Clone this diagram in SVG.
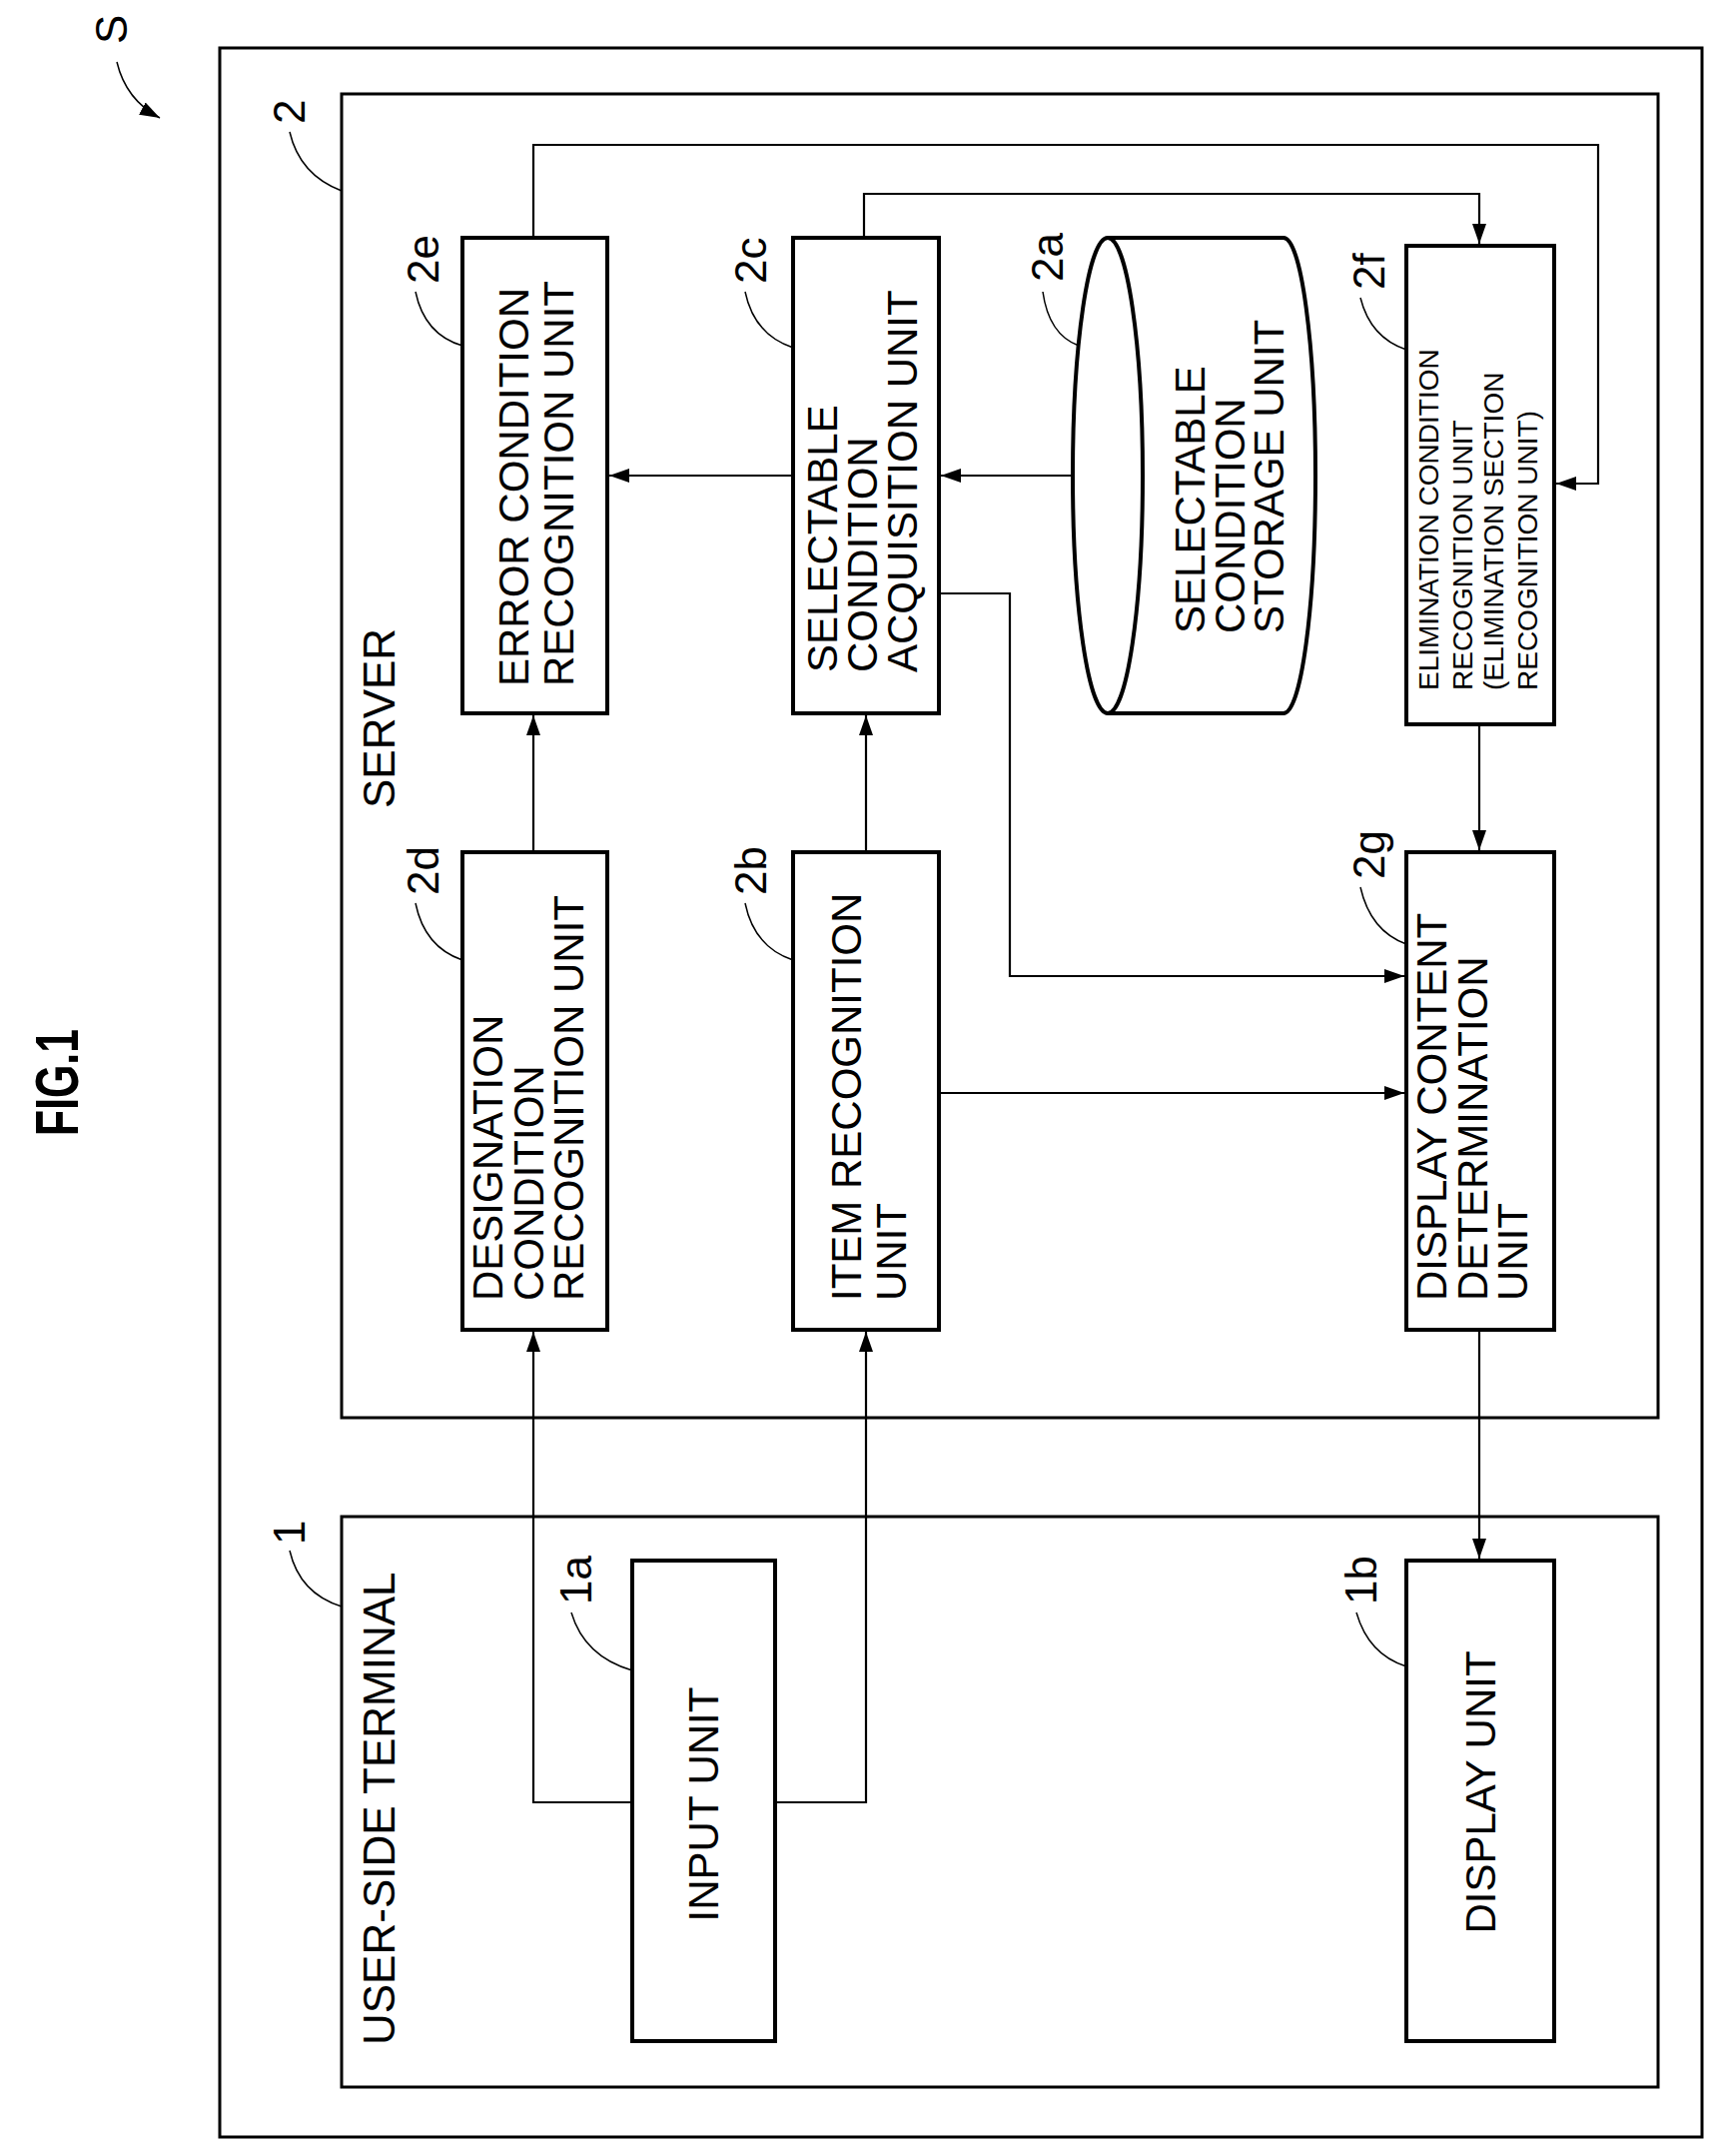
<svg xmlns="http://www.w3.org/2000/svg" width="1718" height="2158" viewBox="0 0 1718 2158">
<style>
.frame{fill:none;stroke:#000;stroke-width:3}
.box{fill:#fff;stroke:#000;stroke-width:4}
.conn{fill:none;stroke:#000;stroke-width:2.2}
.lead{fill:none;stroke:#000;stroke-width:1.5}
.t{font-family:"Liberation Sans",Arial,sans-serif;font-size:42px;fill:#000}
.ts{font-family:"Liberation Sans",Arial,sans-serif;font-size:28px;fill:#000}
.lbl{font-family:"Liberation Sans",Arial,sans-serif;font-size:44px;fill:#000}
</style>
<defs>
<marker id="ah" viewBox="0 0 20 14" refX="20" refY="7" markerWidth="20" markerHeight="14" markerUnits="userSpaceOnUse" orient="auto">
<path d="M0,0 L20,7 L0,14 Z" fill="#000"/>
</marker>
</defs>
<rect width="1718" height="2158" fill="#fff"/>

<g id="fig">
<text transform="translate(78,1137) rotate(-90)" font-family="Liberation Sans,Arial,sans-serif" font-weight="bold" font-size="62" textLength="107" lengthAdjust="spacingAndGlyphs">FIG.1</text>
<text transform="translate(127,44) rotate(-90)" class="lbl" font-size="48">S</text>
<path class="lead" d="M117,62 Q126,100 160,118" marker-end="url(#ah)"/>
</g>

<g id="system-S"><rect class="frame" x="220" y="48" width="1484" height="2091"/></g>

<g id="server-2">
<rect class="frame" x="342" y="94" width="1318" height="1325"/>
<text class="lbl" transform="translate(395,809) rotate(-90)">SERVER</text>
<text class="lbl" transform="translate(305,124) rotate(-90)">2</text>
<path class="lead" d="M290,132 Q300,175 342,191"/>
</g>

<g id="terminal-1">
<rect class="frame" x="342" y="1518" width="1318" height="571"/>
<text class="lbl" transform="translate(395,2047) rotate(-90)">USER-SIDE TERMINAL</text>
<text class="lbl" transform="translate(305,1546) rotate(-90)">1</text>
<path class="lead" d="M290,1552 Q300,1595 342,1608"/>
</g>

<g id="connectors">
<path class="conn" d="M534,238 V145 H1600 V484 H1558" marker-end="url(#ah)"/>
<path class="conn" d="M865,238 V194 H1481 V244" marker-end="url(#ah)"/>
<path class="conn" d="M794,476 H610" marker-end="url(#ah)"/>
<path class="conn" d="M1074,476 H942" marker-end="url(#ah)"/>
<path class="conn" d="M940,594 H1011 V977 H1406" marker-end="url(#ah)"/>
<path class="conn" d="M940,1094 H1406" marker-end="url(#ah)"/>
<path class="conn" d="M534,853 V716" marker-end="url(#ah)"/>
<path class="conn" d="M867,853 V716" marker-end="url(#ah)"/>
<path class="conn" d="M1481,725 V851" marker-end="url(#ah)"/>
<path class="conn" d="M633,1804 H534 V1333" marker-end="url(#ah)"/>
<path class="conn" d="M776,1804 H867 V1333" marker-end="url(#ah)"/>
<path class="conn" d="M1481,1331 V1560" marker-end="url(#ah)"/>
</g>

<g id="node-2e">
<rect class="box" x="463" y="238" width="145" height="476"/>
<text class="t" transform="translate(529,687) rotate(-90)"><tspan x="0" y="0">ERROR CONDITION</tspan><tspan x="0" y="45">RECOGNITION UNIT</tspan></text>
<text class="lbl" transform="translate(439,284) rotate(-90)">2e</text>
<path class="lead" d="M416,292 Q425,335 463,346"/>
</g>

<g id="node-2c">
<rect class="box" x="794" y="238" width="146" height="476"/>
<text class="t" transform="translate(838,673) rotate(-90)"><tspan x="0" y="0">SELECTABLE</tspan><tspan x="0" y="40">CONDITION</tspan><tspan x="0" y="80">ACQUISITION UNIT</tspan></text>
<text class="lbl" transform="translate(767,284) rotate(-90)">2c</text>
<path class="lead" d="M746,292 Q755,335 794,348"/>
</g>

<g id="node-2a">
<path class="box" d="M1109,238 H1285 A32,238 0 0 1 1285,714 H1109"/>
<ellipse class="box" cx="1109" cy="476" rx="35" ry="238"/>
<text class="t" transform="translate(1206,634) rotate(-90)"><tspan x="0" y="0">SELECTABLE</tspan><tspan x="0" y="40">CONDITION</tspan><tspan x="0" y="79">STORAGE UNIT</tspan></text>
<text class="lbl" transform="translate(1064,282) rotate(-90)">2a</text>
<path class="lead" d="M1044,292 Q1050,335 1080,346"/>
</g>

<g id="node-2f">
<rect class="box" x="1408" y="246" width="148" height="479"/>
<text class="ts" transform="translate(1440,691) rotate(-90)"><tspan x="0" y="0">ELIMINATION CONDITION</tspan><tspan x="0" y="34">RECOGNITION UNIT</tspan><tspan x="0" y="65">(ELIMINATION SECTION</tspan><tspan x="0" y="99">RECOGNITION UNIT)</tspan></text>
<text class="lbl" transform="translate(1386,290) rotate(-90)">2f</text>
<path class="lead" d="M1362,298 Q1372,338 1408,350"/>
</g>

<g id="node-2d">
<rect class="box" x="463" y="853" width="145" height="478"/>
<text class="t" transform="translate(503,1302) rotate(-90)"><tspan x="0" y="0">DESIGNATION</tspan><tspan x="0" y="41">CONDITION</tspan><tspan x="0" y="81">RECOGNITION UNIT</tspan></text>
<text class="lbl" transform="translate(439,896) rotate(-90)">2d</text>
<path class="lead" d="M416,904 Q425,948 463,961"/>
</g>

<g id="node-2b">
<rect class="box" x="794" y="853" width="146" height="478"/>
<text class="t" transform="translate(862,1302) rotate(-90)"><tspan x="0" y="0">ITEM RECOGNITION</tspan><tspan x="0" y="45">UNIT</tspan></text>
<text class="lbl" transform="translate(767,896) rotate(-90)">2b</text>
<path class="lead" d="M746,904 Q755,948 794,961"/>
</g>

<g id="node-2g">
<rect class="box" x="1408" y="853" width="148" height="478"/>
<text class="t" transform="translate(1448,1302) rotate(-90)"><tspan x="0" y="0">DISPLAY CONTENT</tspan><tspan x="0" y="41">DETERMINATION</tspan><tspan x="0" y="81">UNIT</tspan></text>
<text class="lbl" transform="translate(1386,880) rotate(-90)">2g</text>
<path class="lead" d="M1362,888 Q1372,932 1408,945"/>
</g>

<g id="node-1a">
<rect class="box" x="633" y="1562" width="143" height="481"/>
<text class="t" text-anchor="middle" transform="translate(719,1806) rotate(-90)">INPUT UNIT</text>
<text class="lbl" transform="translate(592,1606) rotate(-90)">1a</text>
<path class="lead" d="M572,1614 Q585,1658 633,1672"/>
</g>

<g id="node-1b">
<rect class="box" x="1408" y="1562" width="148" height="481"/>
<text class="t" text-anchor="middle" transform="translate(1497,1794) rotate(-90)">DISPLAY UNIT</text>
<text class="lbl" transform="translate(1378,1606) rotate(-90)">1b</text>
<path class="lead" d="M1358,1614 Q1370,1656 1408,1668"/>
</g>
</svg>
